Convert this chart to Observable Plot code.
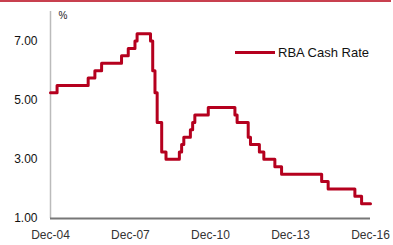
<!DOCTYPE html>
<html>
<head>
<meta charset="utf-8">
<script src="https://cdn.jsdelivr.net/npm/d3@7"></script>
<script src="https://cdn.jsdelivr.net/npm/@observablehq/plot@0.6"></script>
<style>
  html, body { margin: 0; padding: 0; background: #fff; }
  #wrap { position: relative; width: 393px; height: 245px; overflow: hidden; font-family: "Liberation Sans", Arial, sans-serif; }
  #topbar { position: absolute; left: 0; top: 0; width: 391px; height: 2px; background: #c8404f; }
  #legend { position: absolute; left: 235px; top: 45px; display: flex; align-items: center; font-size: 13px; color: #111; }
  #legend .sw { width: 40px; height: 3px; background: #b5001e; margin-right: 3px; }
</style>
</head>
<body>
<div id="wrap">
  <div id="chart"></div>
  <div id="topbar"></div>
  <div id="legend"><span class="sw"></span><span>RBA Cash Rate</span></div>
</div>
<script>
const seriesName = "RBA Cash Rate";
const changeDates = [
  "2004-12-01","2005-03-01","2006-05-01","2006-08-01","2006-11-01","2007-08-01",
  "2007-11-01","2008-02-01","2008-03-01","2008-09-01","2008-10-01","2008-11-01",
  "2008-12-01","2009-02-01","2009-04-01","2009-10-01","2009-11-01","2009-12-01",
  "2010-03-01","2010-04-01","2010-05-01","2010-11-01","2011-11-01","2011-12-01",
  "2012-05-01","2012-06-01","2012-10-01","2012-12-01","2013-05-01","2013-08-01",
  "2015-02-01","2015-05-01","2016-05-01","2016-08-01","2016-12-01"
];
const rates = [
  5.25, 5.50, 5.75, 6.00, 6.25, 6.50,
  6.75, 7.00, 7.25, 7.00, 6.00, 5.25,
  4.25, 3.25, 3.00, 3.25, 3.50, 3.75,
  4.00, 4.25, 4.50, 4.75, 4.50, 4.25,
  3.75, 3.50, 3.25, 3.00, 2.75, 2.50,
  2.25, 2.00, 1.75, 1.50, 1.50
];
const xTickDates = ["2004-12-01","2007-12-01","2010-12-01","2013-12-01","2016-12-01"];
const yTicks = [1, 3, 5, 7];
const yDomain = [1, 8];
const yUnit = "%";

const parse = d3.utcParse("%Y-%m-%d");
const data = changeDates.map((d, i) => ({date: parse(d), rate: rates[i]}));
const xTicks = xTickDates.map(parse);
const xDomain = [xTicks[0], xTicks[xTicks.length - 1]];

const chart = Plot.plot({
  width: 393,
  height: 245,
  marginLeft: 50,
  marginRight: 23,
  marginTop: 11,
  marginBottom: 27,
  style: {fontFamily: "'Liberation Sans', Arial, sans-serif", fontSize: "11px", background: "transparent"},
  x: {type: "utc", domain: xDomain},
  y: {domain: yDomain},
  marks: [
    Plot.axisY({ticks: yTicks, tickSize: 0, tickPadding: 13, tickFormat: d3.format(".2f"), label: null, fill: "#111", fontSize: 12}),
    Plot.axisX({ticks: xTicks, tickSize: 0, tickPadding: 12, tickFormat: d3.utcFormat("Dec-%y"), label: null, fill: "#333", fontSize: 12}),
    Plot.ruleX([xDomain[0]], {stroke: "#bbb", strokeWidth: 1.5}),
    Plot.ruleY([yDomain[0]], {stroke: "#777", strokeWidth: 2}),
    Plot.text([yUnit], {frameAnchor: "top-left", dx: 8, dy: 0, textAnchor: "start", fontSize: 10, fill: "#222"}),
    Plot.line(data, {x: "date", y: "rate", curve: "step-after", stroke: "#b5001e", strokeWidth: 3, title: () => seriesName})
  ]
});
document.getElementById("chart").appendChild(chart);
</script>
</body>
</html>
